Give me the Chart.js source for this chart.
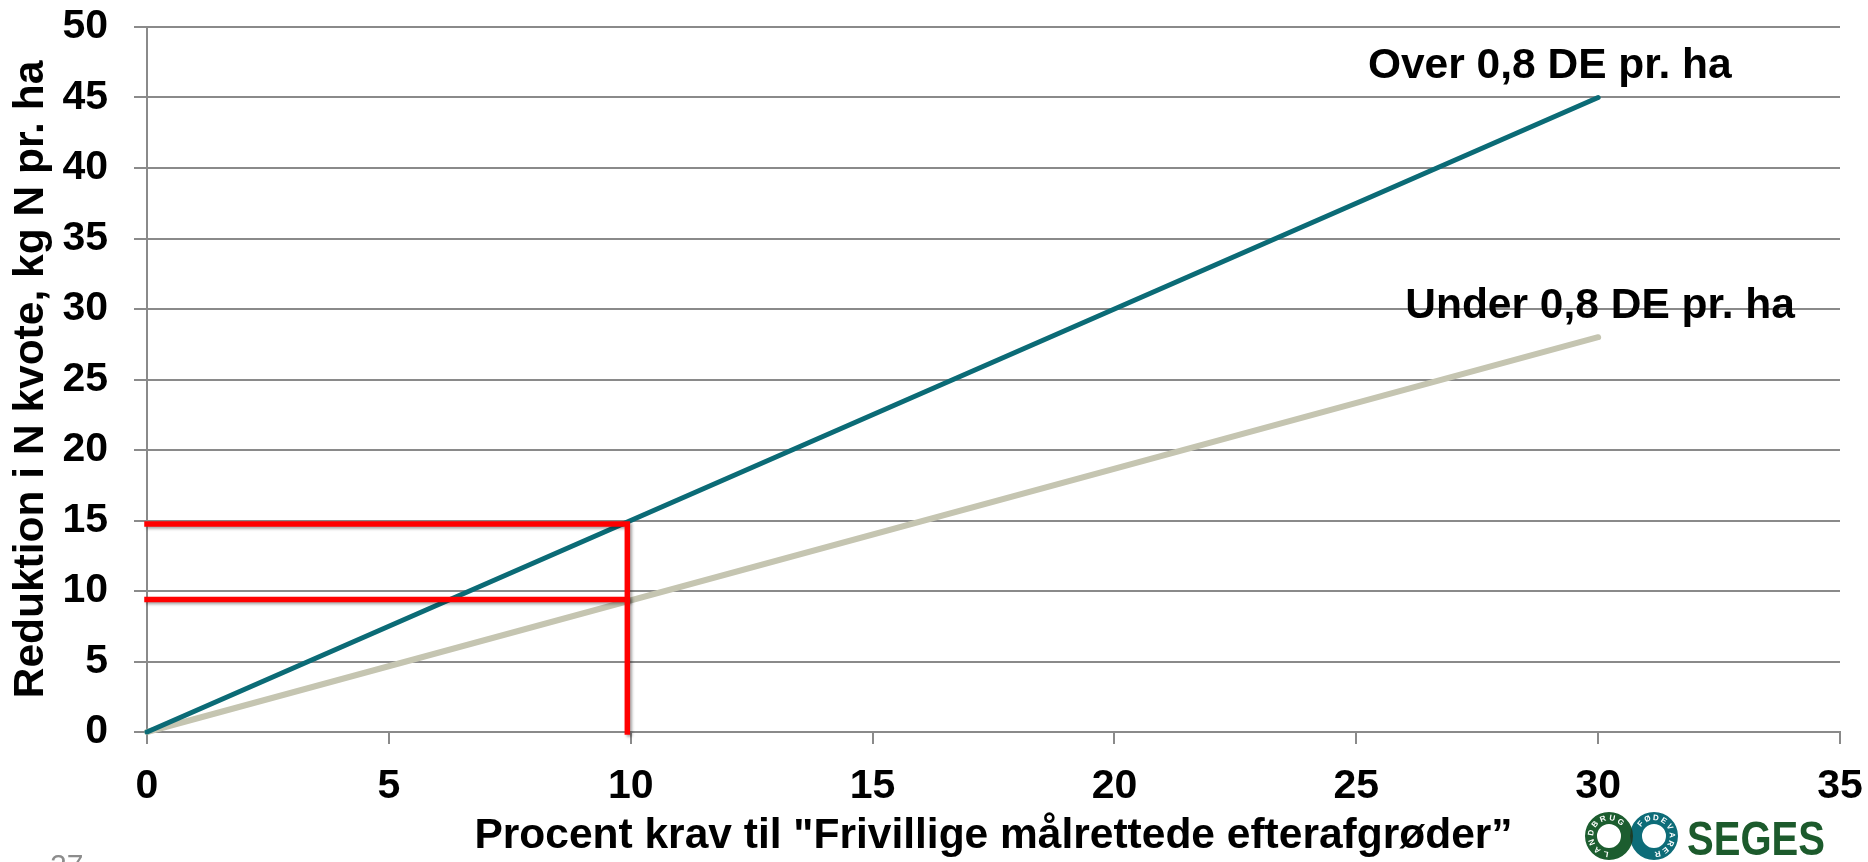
<!DOCTYPE html>
<html>
<head>
<meta charset="utf-8">
<title>Reduktion i N kvote</title>
<script src="https://cdn.jsdelivr.net/npm/chart.js@4.4.1/dist/chart.umd.min.js"></script>
<style>
  html, body { margin: 0; padding: 0; background: #fff; }
  #wrap { width: 1868px; height: 862px; position: relative; }
</style>
</head>
<body>
<div id="wrap"><canvas id="chart"></canvas></div>
<script>
// procent krav (x) vs. reduktion i kg N pr. ha (y)
var overX = [0, 30];
var overY = [0, 45];
var underX = [0, 30];
var underY = [0, 28];

// red read-off lines at 10 %
var guideHighX = [0, 9.93, 9.93];
var guideHighY = [14.75, 14.75, 0];
var guideLowX = [0, 9.93];
var guideLowY = [9.4, 9.4];

var xTickValues = [0, 5, 10, 15, 20, 25, 30, 35];
var yTickValues = [0, 5, 10, 15, 20, 25, 30, 35, 40, 45, 50];

var seriesNames = ['Over 0,8 DE pr. ha', 'Under 0,8 DE pr. ha'];
var xTitle = 'Procent krav til "Frivillige målrettede efterafgrøder”';
var yTitle = 'Reduktion i N kvote, kg N pr. ha';
var pageNo = '27';

// where the series names sit, in data units (centre x, baseline y)
var nameAt = [[29, 46.4], [30.04, 29.34]];

var FONT = '"Liberation Sans", Arial, sans-serif';
var GRID = '#8a8a8a';

function toPoints(xs, ys) {
    return xs.map(function(x, i) { return {x: x, y: ys[i]}; });
}

Chart.defaults.font.family = FONT;
Chart.defaults.font.weight = 'bold';
Chart.defaults.color = '#000';

var redShadow = {
    id: 'redShadow',
    beforeDatasetDraw: function(chart, args) {
        if (chart.data.datasets[args.index].shadow) {
            var ctx = chart.ctx;
            ctx.save();
            ctx.shadowColor = 'rgba(0,0,0,0.35)';
            ctx.shadowBlur = 3;
            ctx.shadowOffsetX = 2;
            ctx.shadowOffsetY = 2;
        }
    },
    afterDatasetDraw: function(chart, args) {
        if (chart.data.datasets[args.index].shadow) chart.ctx.restore();
    }
};

function arcText(ctx, text, cx, cy, r, start, step) {
    for (var i = 0; i < text.length; i++) {
        var a = (start + i * step) * Math.PI / 180;
        ctx.save();
        ctx.translate(cx + r * Math.cos(a), cy + r * Math.sin(a));
        ctx.rotate(a + Math.PI / 2);
        ctx.fillText(text[i], 0, 0);
        ctx.restore();
    }
}

function ringPath(ctx, cx, cy, r1, r2) {
    ctx.beginPath();
    ctx.arc(cx, cy, r1, 0, Math.PI * 2);
    ctx.moveTo(cx + r2, cy);
    ctx.arc(cx, cy, r2, 0, Math.PI * 2);
}

function drawLogo(ctx) {
    var cy = 836, r1 = 24, r2 = 12, lx = 1609, rx = 1654;
    ctx.save();
    ringPath(ctx, lx, cy, r1, r2);
    ctx.fillStyle = '#1c5d2f';
    ctx.fill('evenodd');
    ringPath(ctx, rx, cy, r1, r2);
    ctx.fillStyle = '#0d6c78';
    ctx.fill('evenodd');
    // overlap of the two rings
    ctx.save();
    ringPath(ctx, lx, cy, r1, r2);
    ctx.clip('evenodd');
    ringPath(ctx, rx, cy, r1, r2);
    ctx.fillStyle = '#1d3d26';
    ctx.fill('evenodd');
    ctx.restore();

    ctx.fillStyle = '#fff';
    ctx.font = 'bold 8px ' + FONT;
    ctx.textAlign = 'center';
    ctx.textBaseline = 'middle';
    arcText(ctx, 'LANDBRUG', lx, cy, 18, 100, 30);
    arcText(ctx, 'FØDEVARER', rx, cy, 18, 222, 27);

    ctx.font = 'bold 48px ' + FONT;
    ctx.textAlign = 'left';
    ctx.textBaseline = 'alphabetic';
    ctx.fillStyle = '#1c5a2c';
    var w = ctx.measureText('SEGES').width;
    ctx.translate(1687, 855);
    ctx.scale(138 / w, 1);
    ctx.fillText('SEGES', 0, 0);
    ctx.restore();
}

var annotate = {
    id: 'annotate',
    afterDatasetsDraw: function(chart) {
        var ctx = chart.ctx, xs = chart.scales.x, ys = chart.scales.y;
        ctx.save();
        ctx.font = 'bold 42.5px ' + FONT;
        ctx.fillStyle = '#000';
        ctx.textAlign = 'center';
        ctx.textBaseline = 'alphabetic';
        for (var i = 0; i < seriesNames.length; i++) {
            ctx.fillText(seriesNames[i], xs.getPixelForValue(nameAt[i][0]), ys.getPixelForValue(nameAt[i][1]));
        }
        ctx.restore();
    },
    afterDraw: function(chart) {
        var ctx = chart.ctx;
        ctx.save();
        ctx.font = '30px ' + FONT;
        ctx.fillStyle = '#8c8c8c';
        ctx.textAlign = 'left';
        ctx.textBaseline = 'top';
        ctx.fillText(pageNo, 50, 852);
        ctx.restore();
        drawLogo(ctx);
    }
};

var config = {
    type: 'line',
    data: {
        datasets: [
            {
                label: 'guide 15',
                data: toPoints(guideHighX, guideHighY),
                borderColor: '#ff0000',
                borderWidth: 5.5,
                borderCapStyle: 'square',
                borderJoinStyle: 'miter',
                shadow: true
            },
            {
                label: 'guide 9',
                data: toPoints(guideLowX, guideLowY),
                borderColor: '#ff0000',
                borderWidth: 5.5,
                borderCapStyle: 'square',
                shadow: true
            },
            {
                label: seriesNames[0],
                data: toPoints(overX, overY),
                borderColor: '#0b6b76',
                borderWidth: 5,
                borderCapStyle: 'round'
            },
            {
                label: seriesNames[1],
                data: toPoints(underX, underY),
                borderColor: '#c5c5b1',
                borderWidth: 6,
                borderCapStyle: 'round'
            }
        ]
    },
    options: {
        responsive: true,
        maintainAspectRatio: false,
        animation: false,
        clip: false,
        elements: { point: { radius: 0, hoverRadius: 0 }, line: { tension: 0 } },
        layout: { padding: { top: 27, right: 28, left: 0, bottom: 0 } },
        plugins: {
            legend: { display: false },
            tooltip: { enabled: false }
        },
        scales: {
            x: {
                type: 'linear',
                min: 0,
                max: 35,
                afterBuildTicks: function(axis) {
                    axis.ticks = xTickValues.map(function(v) { return {value: v}; });
                },
                afterFit: function(scale) {
                    scale.height = 130;
                    scale.paddingLeft = 0;
                    scale.paddingRight = 0;
                },
                grid: {
                    drawOnChartArea: false,
                    drawTicks: true,
                    tickLength: 12,
                    color: GRID,
                    lineWidth: 2
                },
                border: { display: true, color: GRID, width: 2 },
                ticks: {
                    font: { size: 41, weight: 'bold' },
                    color: '#000',
                    padding: 18,
                    maxRotation: 0
                },
                title: {
                    display: true,
                    text: xTitle,
                    font: { size: 42.5, weight: 'bold' },
                    color: '#000',
                    padding: { top: 0, bottom: 0 }
                }
            },
            y: {
                type: 'linear',
                min: 0,
                max: 50,
                afterBuildTicks: function(axis) {
                    axis.ticks = yTickValues.map(function(v) { return {value: v}; });
                },
                afterFit: function(scale) {
                    scale.width = 147;
                    scale.paddingTop = 0;
                    scale.paddingBottom = 0;
                },
                grid: {
                    drawOnChartArea: true,
                    drawTicks: true,
                    tickLength: 13,
                    color: GRID,
                    lineWidth: 2
                },
                border: { display: true, color: GRID, width: 2 },
                ticks: {
                    font: { size: 41, weight: 'bold' },
                    color: '#000',
                    padding: 26
                },
                title: {
                    display: true,
                    text: yTitle,
                    font: { size: 42.5, weight: 'bold' },
                    color: '#000',
                    padding: { top: 6, bottom: 0 }
                }
            }
        }
    },
    plugins: [redShadow, annotate]
};

var ctx = document.getElementById('chart').getContext('2d');
window.nChart = new Chart(ctx, config);
</script>
</body>
</html>
